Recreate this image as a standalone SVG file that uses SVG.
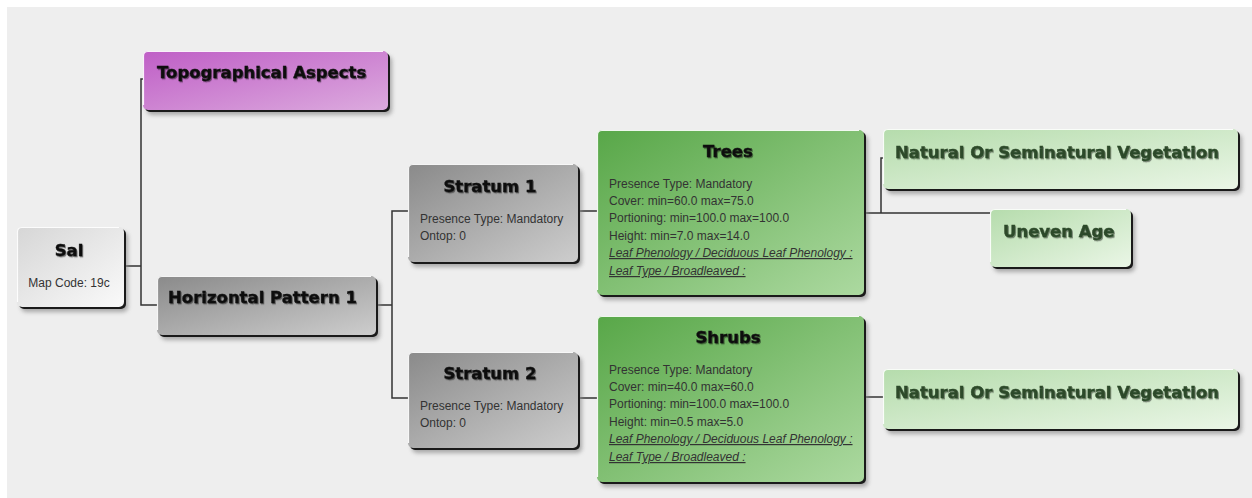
<svg xmlns="http://www.w3.org/2000/svg" width="1252" height="498" viewBox="0 0 1252 498">
<defs>
<linearGradient id="gPurple" x1="0" y1="0" x2="1" y2="1"><stop offset="0" stop-color="#bf5ec6"/><stop offset="1" stop-color="#dcaade"/></linearGradient>
<linearGradient id="gGray" x1="0" y1="0" x2="1" y2="1"><stop offset="0" stop-color="#8a8a8a"/><stop offset="1" stop-color="#cdcdcd"/></linearGradient>
<linearGradient id="gLight" x1="0" y1="0" x2="1" y2="1"><stop offset="0" stop-color="#d6d6d6"/><stop offset="1" stop-color="#fafafa"/></linearGradient>
<linearGradient id="gGreen" x1="0" y1="0" x2="1" y2="1"><stop offset="0" stop-color="#58a748"/><stop offset="1" stop-color="#acd9a0"/></linearGradient>
<linearGradient id="gPale" x1="0" y1="0" x2="1" y2="1"><stop offset="0" stop-color="#b5dcac"/><stop offset="1" stop-color="#eaf6e6"/></linearGradient>
<filter id="blur" x="-10%" y="-10%" width="120%" height="130%"><feGaussianBlur stdDeviation="2"/></filter>
<filter id="tsh" x="-5%" y="-20%" width="110%" height="150%"><feDropShadow dx="1" dy="1.2" stdDeviation="0.6" flood-color="#000" flood-opacity="0.45"/></filter>
</defs>
<style>
.sh{fill:#8a8a8a;opacity:0.7;filter:url(#blur)}
.edge{fill:#1a1a1a}
.hl{fill:none;stroke:#ffffff;stroke-width:1.2;opacity:0.9}
.title{font-family:"DejaVu Sans",sans-serif;font-weight:bold;font-size:16.5px;fill:#111;stroke:#111;stroke-width:0.45;filter:url(#tsh)}
.gtitle{font-family:"DejaVu Sans",sans-serif;font-weight:bold;font-size:16.5px;fill:#2d4a2a;stroke:#2d4a2a;stroke-width:0.45;filter:url(#tsh)}
.body{font-family:"Liberation Sans",Arial,sans-serif;font-size:12px;fill:#333}
.link{font-family:"Liberation Sans",Arial,sans-serif;font-size:12px;fill:#333;font-style:italic;text-decoration:underline}
.conn{fill:none;stroke:#333;stroke-width:1.5}
</style>
<rect x="7" y="7" width="1245" height="491" fill="#eeeeee"/>
<g id="connectors">
<path class="conn" d="M124 266 H141 M143 79 H141 V305 H157"/>
<path class="conn" d="M376 305 H392 M408 211 H392 V398 H408"/>
<path class="conn" d="M578 211 H597 M578 398 H597"/>
<path class="conn" d="M864 213 H990 M881 213 V158 H883"/>
<path class="conn" d="M864 397 H883"/>
</g>
<g id="topographical">
<rect class="sh" x="147" y="56" width="245" height="59" rx="5"/>
<rect class="edge" x="145" y="53" width="245" height="59" rx="5"/>
<rect x="143" y="51" width="245" height="59" rx="5" fill="url(#gPurple)"/>
<path class="hl" d="M143.5 105 V56 Q143.5 51.5 148 51.5 H383"/>
<text class="title" x="157" y="78">Topographical Aspects</text>
</g>
<g id="sal">
<rect class="sh" x="21" y="232" width="107" height="80" rx="5"/>
<rect class="edge" x="19" y="229" width="107" height="80" rx="5"/>
<rect x="17" y="227" width="107" height="80" rx="5" fill="url(#gLight)"/>
<path class="hl" d="M17.5 302 V232 Q17.5 227.5 22 227.5 H119"/>
<text class="title" x="69" y="256" text-anchor="middle">Sal</text>
<text class="body" x="69" y="287" text-anchor="middle" fill="#444">Map Code: 19c</text>
</g>
<g id="hp1">
<rect class="sh" x="161" y="281" width="219" height="59" rx="5"/>
<rect class="edge" x="159" y="278" width="219" height="59" rx="5"/>
<rect x="157" y="276" width="219" height="59" rx="5" fill="url(#gGray)"/>
<path class="hl" d="M157.5 330 V281 Q157.5 276.5 162 276.5 H371"/>
<text class="title" x="168" y="303">Horizontal Pattern 1</text>
</g>
<g id="stratum1">
<rect class="sh" x="412" y="169" width="170" height="98" rx="5"/>
<rect class="edge" x="410" y="166" width="170" height="98" rx="5"/>
<rect x="408" y="164" width="170" height="98" rx="5" fill="url(#gGray)"/>
<path class="hl" d="M408.5 257 V169 Q408.5 164.5 413 164.5 H573"/>
<text class="title" x="490" y="192" text-anchor="middle">Stratum 1</text>
<text class="body" x="420" y="223">Presence Type: Mandatory</text>
<text class="body" x="420" y="240">Ontop: 0</text>
</g>
<g id="stratum2">
<rect class="sh" x="412" y="357" width="170" height="96" rx="5"/>
<rect class="edge" x="410" y="354" width="170" height="96" rx="5"/>
<rect x="408" y="352" width="170" height="96" rx="5" fill="url(#gGray)"/>
<path class="hl" d="M408.5 443 V357 Q408.5 352.5 413 352.5 H573"/>
<text class="title" x="490" y="379" text-anchor="middle">Stratum 2</text>
<text class="body" x="420" y="410">Presence Type: Mandatory</text>
<text class="body" x="420" y="427">Ontop: 0</text>
</g>
<g id="trees">
<rect class="sh" x="601" y="135" width="267" height="165" rx="5"/>
<rect class="edge" x="599" y="132" width="267" height="165" rx="5"/>
<rect x="597" y="130" width="267" height="165" rx="5" fill="url(#gGreen)"/>
<path class="hl" d="M597.5 290 V135 Q597.5 130.5 602 130.5 H859"/>
<text class="title" x="728" y="157" text-anchor="middle">Trees</text>
<text class="body" x="609" y="188">Presence Type: Mandatory</text>
<text class="body" x="609" y="205">Cover: min=60.0 max=75.0</text>
<text class="body" x="609" y="222">Portioning: min=100.0 max=100.0</text>
<text class="body" x="609" y="240">Height: min=7.0 max=14.0</text>
<text class="link" x="609" y="257">Leaf Phenology / Deciduous Leaf Phenology :</text>
<text class="link" x="609" y="275">Leaf Type / Broadleaved :</text>
</g>
<g id="shrubs">
<rect class="sh" x="601" y="321" width="267" height="166" rx="5"/>
<rect class="edge" x="599" y="318" width="267" height="166" rx="5"/>
<rect x="597" y="316" width="267" height="166" rx="5" fill="url(#gGreen)"/>
<path class="hl" d="M597.5 477 V321 Q597.5 316.5 602 316.5 H859"/>
<text class="title" x="728" y="343" text-anchor="middle">Shrubs</text>
<text class="body" x="609" y="374">Presence Type: Mandatory</text>
<text class="body" x="609" y="391">Cover: min=40.0 max=60.0</text>
<text class="body" x="609" y="408">Portioning: min=100.0 max=100.0</text>
<text class="body" x="609" y="426">Height: min=0.5 max=5.0</text>
<text class="link" x="609" y="443">Leaf Phenology / Deciduous Leaf Phenology :</text>
<text class="link" x="609" y="461">Leaf Type / Broadleaved :</text>
</g>
<g id="natural1">
<rect class="sh" x="887" y="134" width="355" height="60" rx="5"/>
<rect class="edge" x="885" y="131" width="355" height="60" rx="5"/>
<rect x="883" y="129" width="355" height="60" rx="5" fill="url(#gPale)"/>
<path class="hl" d="M883.5 184 V134 Q883.5 129.5 888 129.5 H1233"/>
<text class="gtitle" x="895" y="158">Natural Or Seminatural Vegetation</text>
</g>
<g id="uneven">
<rect class="sh" x="994" y="214" width="141" height="58" rx="5"/>
<rect class="edge" x="992" y="211" width="141" height="58" rx="5"/>
<rect x="990" y="209" width="141" height="58" rx="5" fill="url(#gPale)"/>
<path class="hl" d="M990.5 262 V214 Q990.5 209.5 995 209.5 H1126"/>
<text class="gtitle" x="1003" y="237">Uneven Age</text>
</g>
<g id="natural2">
<rect class="sh" x="887" y="374" width="355" height="60" rx="5"/>
<rect class="edge" x="885" y="371" width="355" height="60" rx="5"/>
<rect x="883" y="369" width="355" height="60" rx="5" fill="url(#gPale)"/>
<path class="hl" d="M883.5 424 V374 Q883.5 369.5 888 369.5 H1233"/>
<text class="gtitle" x="895" y="398">Natural Or Seminatural Vegetation</text>
</g>
</svg>
